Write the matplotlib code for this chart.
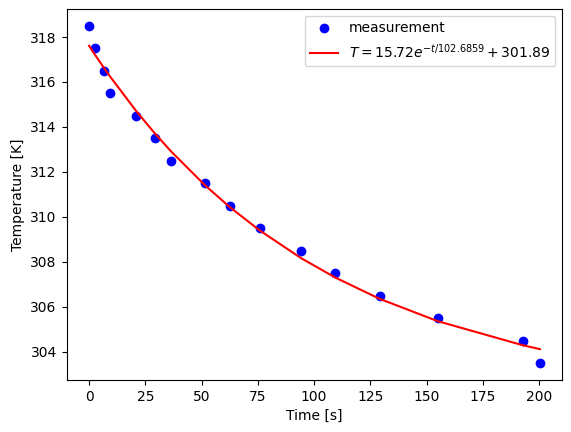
import numpy as np
import matplotlib
matplotlib.use("Agg")
import matplotlib.pyplot as plt

# measured cooling curve
time_s = [0.0, 2.7, 6.6, 9.3, 20.9, 29.3, 36.4, 51.5, 62.6, 75.8,
          94.3, 109.4, 129.2, 155.0, 192.9, 200.4]
temp_K = [318.5, 317.5, 316.5, 315.5, 314.5, 313.5, 312.5, 311.5, 310.5, 309.5,
          308.5, 307.5, 306.5, 305.5, 304.5, 303.5]

# fitted parameters (from the legend)
amp, tau, offset = 15.72, 102.6859, 301.89

t = np.array(time_s)
fit = amp * np.exp(-t / tau) + offset

fig = plt.figure(figsize=(5.71, 4.32), dpi=100)
ax = fig.add_axes([0.1165, 0.1204, 0.8685, 0.859])
ax.plot(t, temp_K, "bo", label="measurement")
ax.plot(t, fit, "r-", label=r"$T = %.2fe^{-t/%.4f} + %.2f$" % (amp, tau, offset))
ax.set_xlabel("Time [s]")
ax.set_ylabel("Temperature [K]")
ax.legend(loc="upper right")
fig.savefig("out.png", dpi=100)
